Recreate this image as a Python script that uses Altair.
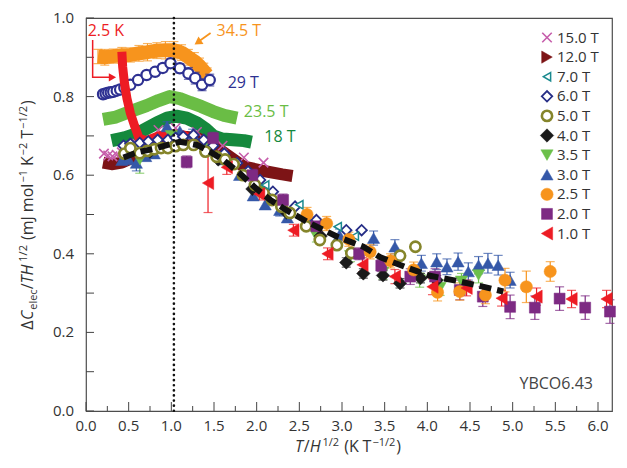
import altair as alt
import pandas as pd

FONT = "Open Sans"
W, H = 526, 393
XMAX = 6.164

# ---------------- axis ticks ----------------
x_major = [0.0, 0.5, 1.0, 1.5, 2.0, 2.5, 3.0, 3.5, 4.0, 4.5, 5.0, 5.5, 6.0]
x_minor = [0.25, 0.75, 1.25, 1.75, 2.25, 2.75, 3.25, 3.75, 4.25, 4.75, 5.25, 5.75]
y_labels = [0.0, 0.2, 0.4, 0.6, 0.8, 1.0]
y_ticks = [0.0, 0.1, 0.2, 0.3, 0.4, 0.5, 0.6, 0.7, 0.8, 0.9, 1.0]

# ---------------- high-field bands ----------------
x_345 = [0.14, 0.22, 0.32, 0.42, 0.52, 0.62, 0.72, 0.83, 0.93, 1.03, 1.12, 1.20, 1.27, 1.33, 1.38, 1.42]
y_345 = [0.902, 0.900, 0.903, 0.905, 0.906, 0.910, 0.913, 0.917, 0.918, 0.918, 0.912, 0.900, 0.890, 0.878, 0.865, 0.855]
e_345 = [0.018, 0.020, 0.018, 0.020, 0.018, 0.020, 0.022, 0.020, 0.022, 0.022, 0.020, 0.020, 0.022, 0.020, 0.020, 0.018]

x_29 = [0.20, 0.23, 0.26, 0.29, 0.32, 0.36, 0.40, 0.45, 0.52, 0.61, 0.71, 0.81, 0.90, 0.99, 1.10, 1.20, 1.28, 1.36, 1.45]
y_29 = [0.806, 0.808, 0.810, 0.811, 0.812, 0.815, 0.818, 0.822, 0.830, 0.842, 0.855, 0.863, 0.873, 0.885, 0.872, 0.859, 0.847, 0.830, 0.842]
e_29 = [0.0, 0.0, 0.0, 0.0, 0.0, 0.0, 0.0, 0.0, 0.0, 0.0, 0.008, 0.0, 0.010, 0.0, 0.012, 0.015, 0.015, 0.015, 0.015]

x_235 = [0.20, 0.35, 0.52, 0.71, 0.85, 0.98, 1.10, 1.22, 1.35, 1.49, 1.62, 1.77]
y_235 = [0.742, 0.748, 0.762, 0.777, 0.790, 0.800, 0.795, 0.785, 0.775, 0.762, 0.752, 0.745]

x_18 = [0.30, 0.45, 0.59, 0.72, 0.83, 0.95, 1.06, 1.18, 1.30, 1.40, 1.49, 1.60, 1.72, 1.85, 1.94]
y_18 = [0.688, 0.695, 0.705, 0.720, 0.733, 0.745, 0.750, 0.745, 0.733, 0.718, 0.700, 0.692, 0.690, 0.688, 0.684]

x_15 = [0.21, 0.26, 0.31, 0.36, 0.42, 0.60, 0.85, 1.05, 1.30, 1.60, 1.85, 2.08]
y_15 = [0.655, 0.650, 0.648, 0.652, 0.658, 0.680, 0.715, 0.720, 0.710, 0.675, 0.645, 0.632]

x_12 = [0.20, 0.30, 0.42, 0.60, 0.85, 1.05, 1.30, 1.60, 1.85, 2.10, 2.30, 2.42]
y_12 = [0.632, 0.628, 0.632, 0.650, 0.685, 0.700, 0.695, 0.660, 0.622, 0.610, 0.602, 0.598]

x_25K = [0.42, 0.43, 0.45, 0.48, 0.52, 0.57, 0.62, 0.70, 0.85, 1.00, 1.15, 1.28]
y_25K = [0.914, 0.875, 0.835, 0.795, 0.758, 0.725, 0.695, 0.688, 0.700, 0.706, 0.702, 0.685]

# ---------------- low-field collapse data ----------------
x_7T = [2.10, 2.50, 2.95, 3.15]
y_7T = [0.575, 0.525, 0.469, 0.445]
e_7T = [0.0, 0.0, 0.0, 0.0]

x_6T = [0.44, 0.52, 0.63, 0.73, 0.84, 0.96, 1.05, 1.14, 1.26, 1.38, 1.49, 1.62, 1.77, 1.90, 2.04, 2.19, 2.45, 2.70, 3.05, 3.23]
y_6T = [0.675, 0.680, 0.682, 0.686, 0.690, 0.690, 0.695, 0.698, 0.702, 0.690, 0.675, 0.655, 0.631, 0.610, 0.588, 0.558, 0.520, 0.486, 0.460, 0.460]
e_6T = [0.0] * 20

x_5T = [0.45, 0.52, 0.63, 0.72, 0.80, 0.88, 0.96, 1.05, 1.14, 1.26, 1.40, 1.53, 1.63, 1.73, 1.84, 1.98, 2.08, 2.18, 2.29, 2.39, 2.58, 2.74, 2.94, 3.11, 3.68, 3.86]
y_5T = [0.655, 0.669, 0.656, 0.662, 0.666, 0.669, 0.669, 0.674, 0.677, 0.677, 0.660, 0.647, 0.640, 0.628, 0.600, 0.575, 0.556, 0.537, 0.520, 0.504, 0.470, 0.435, 0.422, 0.402, 0.395, 0.418]
e_5T = [0.0] * 26

x_4T = [0.75, 1.15, 1.55, 1.95, 2.35, 2.75, 3.05, 3.25, 3.48, 3.68, 3.92, 4.11]
y_4T = [0.660, 0.682, 0.640, 0.565, 0.505, 0.445, 0.378, 0.350, 0.345, 0.325, 0.338, 0.333]
e_4T = [0.0, 0.0, 0.0, 0.0, 0.0, 0.0, 0.012, 0.012, 0.012, 0.012, 0.012, 0.012]

x_35T = [0.63, 1.00, 1.45, 2.05, 2.70, 3.10, 3.48, 3.91, 4.15, 4.40, 4.60]
y_35T = [0.640, 0.700, 0.675, 0.560, 0.445, 0.395, 0.353, 0.333, 0.314, 0.330, 0.346]
e_35T = [0.035, 0.015, 0.015, 0.015, 0.015, 0.015, 0.018, 0.018, 0.020, 0.020, 0.020]

x_3T = [0.42, 0.50, 0.59, 0.70, 0.80, 0.95, 1.10, 1.25, 1.40, 1.60, 1.80, 1.96, 2.10, 2.27, 2.36, 2.62, 2.97, 3.37, 3.62, 3.93, 4.11, 4.23, 4.36, 4.48, 4.60, 4.71, 4.83, 4.97]
y_3T = [0.638, 0.640, 0.631, 0.648, 0.655, 0.724, 0.712, 0.705, 0.680, 0.640, 0.600, 0.548, 0.525, 0.511, 0.492, 0.478, 0.448, 0.440, 0.418, 0.376, 0.380, 0.367, 0.380, 0.355, 0.371, 0.376, 0.371, 0.333]
e_3T = [0.0, 0.0, 0.020, 0.0, 0.0, 0.012, 0.0, 0.012, 0.0, 0.012, 0.0, 0.0, 0.0, 0.015, 0.0, 0.015, 0.015, 0.018, 0.018, 0.020, 0.020, 0.020, 0.022, 0.022, 0.022, 0.025, 0.025, 0.020]

x_2T = [1.18, 1.49, 1.95, 2.31, 2.70, 3.20, 3.46, 3.80, 4.09, 4.38, 4.65, 4.97, 5.26, 5.55, 5.85, 6.14]
y_2T = [0.634, 0.694, 0.600, 0.537, 0.470, 0.400, 0.370, 0.342, 0.342, 0.308, 0.291, 0.265, 0.263, 0.286, 0.263, 0.253]
e_2T = [0.015, 0.015, 0.015, 0.015, 0.015, 0.015, 0.015, 0.020, 0.020, 0.025, 0.025, 0.030, 0.030, 0.030, 0.030, 0.030]

x_25T = [2.59, 2.82, 3.08, 3.33, 3.57, 3.84, 4.12, 4.38, 4.68, 4.91, 5.16, 5.44]
y_25T = [0.500, 0.477, 0.437, 0.405, 0.382, 0.359, 0.302, 0.304, 0.295, 0.333, 0.316, 0.355]
e_25T = [0.018, 0.018, 0.018, 0.018, 0.018, 0.020, 0.022, 0.022, 0.022, 0.030, 0.040, 0.025]

x_1T = [1.43, 1.65, 2.03, 2.43, 2.83, 3.24, 3.62, 4.06, 4.46, 4.87, 5.28, 5.69, 6.10]
y_1T = [0.580, 0.620, 0.552, 0.460, 0.400, 0.372, 0.342, 0.316, 0.313, 0.287, 0.291, 0.285, 0.285]
e_1T = [0.075, 0.018, 0.015, 0.015, 0.015, 0.018, 0.018, 0.020, 0.020, 0.020, 0.022, 0.022, 0.022]

# dashed scaling curve
x_fit = [0.44, 0.60, 0.83, 1.00, 1.10, 1.30, 1.45, 1.61, 1.80, 2.00, 2.16, 2.35, 2.62, 2.94, 3.25, 3.45, 3.76, 4.03, 4.30, 4.58, 4.89]
y_fit = [0.645, 0.658, 0.669, 0.680, 0.685, 0.677, 0.660, 0.639, 0.605, 0.565, 0.537, 0.511, 0.478, 0.444, 0.418, 0.391, 0.365, 0.344, 0.333, 0.320, 0.304]

x_dotted = [1.03]

legend_labels = ["15.0 T", "12.0 T", "7.0 T", "6.0 T", "5.0 T", "4.0 T", "3.5 T", "3.0 T", "2.5 T", "2.0 T", "1.0 T"]

# annotations
ann_text = ["2.5 K", "34.5 T", "29 T", "23.5 T", "18 T", "YBCO6.43"]
ann_x = [0.02, 1.53, 1.66, 1.85, 2.09, 5.08]
ann_y = [0.968, 0.968, 0.834, 0.762, 0.698, 0.068]

# ---------------- colours / styles ----------------
ORANGE = "#f7941d"
NAVY29 = "#2e3192"
LGREEN = "#6abd45"
DGREEN = "#15893d"
RED = "#ed1c24"
PINK = "#c65dab"
DRED = "#7d1416"
TEAL = "#1b8a8f"
NAVY = "#262e86"
OLIVE = "#85852b"
BLACK = "#1a1a1a"
GREEN = "#6cc04a"
BLUE = "#3558a8"
PURPLE = "#7d2a83"
TXT = "#333333"
XPATH = "M-1,-1L1,1M-1,1L1,-1"

style = {
    "15.0 T": dict(shape=XPATH, fill="none", col=PINK, size=90, sw=1.6),
    "12.0 T": dict(shape="triangle-right", fill=DRED, col=DRED, size=150, sw=0.5),
    "7.0 T": dict(shape="triangle-left", fill="white", col=TEAL, size=70, sw=1.5),
    "6.0 T": dict(shape="diamond", fill="white", col=NAVY, size=110, sw=1.8),
    "5.0 T": dict(shape="circle", fill="white", col=OLIVE, size=105, sw=2.6),
    "4.0 T": dict(shape="diamond", fill=BLACK, col=BLACK, size=180, sw=0.5),
    "3.5 T": dict(shape="triangle-down", fill=GREEN, col=GREEN, size=150, sw=0.5),
    "3.0 T": dict(shape="triangle-up", fill=BLUE, col=BLUE, size=150, sw=0.5),
    "2.5 T": dict(shape="circle", fill=ORANGE, col=ORANGE, size=150, sw=0.5),
    "2.0 T": dict(shape="square", fill=PURPLE, col=PURPLE, size=120, sw=0.5),
    "1.0 T": dict(shape="triangle-left", fill=RED, col=RED, size=170, sw=0.5),
    "29 T": dict(shape="circle", fill="white", col=NAVY29, size=105, sw=2.2),
}

xs = alt.Scale(domain=[0, XMAX], nice=False, zero=False)
ys = alt.Scale(domain=[0, 1], nice=False, zero=False)


def XE(f="x"):
    return alt.X(f"{f}:Q", scale=xs, axis=None)


def YE(f="y"):
    return alt.Y(f"{f}:Q", scale=ys, axis=None)


def series_df(name, xv, yv, ev=None):
    st = style[name]
    d = pd.DataFrame({"x": xv, "y": yv})
    d["err"] = ev if ev is not None else 0.0
    for k, v in st.items():
        d[k] = v
    d["name"] = name
    return d


layers = []


def errbars(d, width=1.2):
    d = d[d["err"] > 0].copy()
    d["lo"] = d["y"] - d["err"]
    d["hi"] = d["y"] + d["err"]
    caps = pd.concat([d.assign(yc=d["lo"]), d.assign(yc=d["hi"])])
    r = alt.Chart(d).mark_rule(strokeWidth=width).encode(
        x=XE(), y=YE("lo"), y2=alt.Y2("hi:Q"), color=alt.Color("col:N", scale=None))
    c = alt.Chart(caps).mark_tick(orient="horizontal", size=9, thickness=1.2).encode(
        x=XE(), y=YE("yc"), color=alt.Color("col:N", scale=None))
    return [r, c]


def band(xv, yv, color, width):
    d = pd.DataFrame({"x": xv, "y": yv, "i": range(len(xv))})
    return alt.Chart(d).mark_line(color=color, strokeWidth=width, strokeCap="butt", strokeJoin="round").encode(
        x=XE(), y=YE(), order=alt.Order("i:Q"))


def points(d):
    return alt.Chart(d).mark_point(filled=True, opacity=1).encode(
        x=XE(), y=YE(),
        shape=alt.Shape("shape:N", scale=None),
        fill=alt.Fill("fill:N", scale=None),
        stroke=alt.Stroke("col:N", scale=None),
        size=alt.Size("size:Q", scale=None),
        strokeWidth=alt.StrokeWidth("sw:Q", scale=None),
        order=alt.Order("ord:Q"),
    )


# 34.5 T band
d345 = pd.DataFrame({"x": x_345, "y": y_345, "err": e_345, "col": ORANGE})
layers += errbars(d345, 1.0)
layers.append(band(x_345, y_345, ORANGE, 14))

# 29 T circles
d29 = series_df("29 T", x_29, y_29, e_29)
d29["ord"] = range(len(d29))
layers += errbars(d29, 1.0)
layers.append(points(d29))

# 23.5 T and 18 T bands
layers.append(band(x_235, y_235, LGREEN, 13))
layers.append(band(x_18, y_18, DGREEN, 13))

# 12 T band and 15 T crosses
layers.append(band(x_12, y_12, DRED, 12))
d15 = series_df("15.0 T", x_15, y_15)
d15["ord"] = range(len(d15))
layers.append(points(d15))

# 2.5 K curve
layers.append(band(x_25K, y_25K, RED, 9))

# low-field collapse
low = pd.concat([
    series_df("3.0 T", x_3T, y_3T, e_3T),
    series_df("3.5 T", x_35T, y_35T, e_35T),
    series_df("4.0 T", x_4T, y_4T, e_4T),
    series_df("6.0 T", x_6T, y_6T, e_6T),
    series_df("5.0 T", x_5T, y_5T, e_5T),
    series_df("7.0 T", x_7T, y_7T, e_7T),
    series_df("2.0 T", x_2T, y_2T, e_2T),
    series_df("2.5 T", x_25T, y_25T, e_25T),
    series_df("1.0 T", x_1T, y_1T, e_1T),
], ignore_index=True)
low["ord"] = range(len(low))
layers += errbars(low, 1.2)
layers.append(points(low))

# dashed scaling curve
dfit = pd.DataFrame({"x": x_fit, "y": y_fit, "i": range(len(x_fit))})
layers.append(alt.Chart(dfit).mark_line(color="#111111", strokeWidth=6, strokeDash=[12, 6], strokeCap="butt").encode(
    x=XE(), y=YE(), order=alt.Order("i:Q")))

# dotted vertical line
layers.append(alt.Chart(pd.DataFrame({"x": x_dotted})).mark_rule(
    color="#111111", strokeWidth=2.6, strokeDash=[0.1, 5], strokeCap="round").encode(
    x=XE(), y=alt.value(0), y2=alt.value(H)))

# inward ticks
layers.append(alt.Chart(pd.DataFrame({"x": x_major})).mark_rule(color="#444444", strokeWidth=1).encode(
    x=XE(), y=alt.value(H), y2=alt.value(H - 9)))
layers.append(alt.Chart(pd.DataFrame({"x": x_minor})).mark_rule(color="#444444", strokeWidth=1).encode(
    x=XE(), y=alt.value(H), y2=alt.value(H - 5)))
layers.append(alt.Chart(pd.DataFrame({"y": y_ticks})).mark_rule(color="#444444", strokeWidth=1).encode(
    y=YE(), x=alt.value(0), x2=alt.value(8)))

# tick labels
xl = pd.DataFrame({"x": x_major, "t": [f"{v:.1f}" for v in x_major]})
layers.append(alt.Chart(xl).mark_text(font=FONT, fontSize=15, color=TXT, align="center", baseline="middle").encode(
    x=XE(), y=alt.value(H + 15), text="t:N"))
yl = pd.DataFrame({"y": y_labels, "t": [f"{v:.1f}" for v in y_labels]})
layers.append(alt.Chart(yl).mark_text(font=FONT, fontSize=15, color=TXT, align="right", baseline="middle").encode(
    y=YE(), x=alt.value(-12), text="t:N"))

# annotation arrows
arr1 = pd.DataFrame({"x": [0.078, 0.078, 0.29], "y": [0.944, 0.849, 0.849], "i": [0, 1, 2]})
layers.append(alt.Chart(arr1).mark_line(color=RED, strokeWidth=1.5).encode(x=XE(), y=YE(), order=alt.Order("i:Q")))
layers.append(alt.Chart(pd.DataFrame({"x": [0.31], "y": [0.849]})).mark_point(
    shape="triangle-right", filled=True, color=RED, size=70, opacity=1).encode(x=XE(), y=YE()))
arr2 = pd.DataFrame({"x": [1.46, 1.32], "y": [0.962, 0.940], "i": [0, 1]})
layers.append(alt.Chart(arr2).mark_line(color=ORANGE, strokeWidth=1.8).encode(x=XE(), y=YE(), order=alt.Order("i:Q")))
layers.append(alt.Chart(pd.DataFrame({"x": [1.31], "y": [0.938]})).mark_point(
    shape="triangle-up", filled=True, color=ORANGE, size=80, opacity=1, angle=236).encode(x=XE(), y=YE()))

ann = pd.DataFrame({"x": ann_x, "y": ann_y, "t": ann_text,
                    "c": [RED, ORANGE, NAVY29, LGREEN, DGREEN, "#444444"]})
layers.append(alt.Chart(ann).mark_text(font=FONT, fontSize=16, align="left", baseline="middle").encode(
    x=XE(), y=YE(), text="t:N", color=alt.Color("c:N", scale=None)))

# legend
leg = pd.DataFrame({"t": legend_labels})
leg["ly"] = [19.5 + 19.6 * i for i in range(len(leg))]
for k in ["shape", "fill", "col", "size", "sw"]:
    leg[k] = [style[n][k] for n in legend_labels]
layers.append(alt.Chart(leg).mark_point(filled=True, opacity=1).encode(
    x=alt.value(461), y=alt.Y("ly:Q", scale=None),
    shape=alt.Shape("shape:N", scale=None), fill=alt.Fill("fill:N", scale=None),
    stroke=alt.Stroke("col:N", scale=None), size=alt.Size("size:Q", scale=None),
    strokeWidth=alt.StrokeWidth("sw:Q", scale=None)))
layers.append(alt.Chart(leg).mark_text(font=FONT, fontSize=15, align="left", baseline="middle", color=TXT).encode(
    x=alt.value(471), y=alt.Y("ly:Q", scale=None), text="t:N"))

# ---------------- composite axis titles ----------------
CW = {'0': .572, '1': .572, '2': .572, '.': .266, ' ': .26, '(': .296, ')': .296, '/': .371,
      'T': .556, 'K': .598, 'H': .738, 'C': .632, 'Δ': .62, 'm': .928, 'J': .268, 'o': .602,
      'l': .258, 'e': .561, 'c': .479, '−': .572}


def tw(s, fs):
    return sum(CW.get(ch, .55) for ch in s) * fs


# (text, font size, style, baseline shift, gap before)
x_title = [("T", 16, "italic", 0, 0), ("/", 16, "normal", 0, 0), ("H", 16, "italic", 0, 0),
           ("1/2", 11, "normal", -6, 1), ("(K", 16, "normal", 0, 5), ("T", 16, "normal", 0, 4),
           ("−1/2", 11, "normal", -6, 1), (")", 16, "normal", 0, 1)]
y_title = [("Δ", 16, "normal", 0, 0), ("C", 16, "italic", 0, 0), ("elec", 11, "normal", 4, 0),
           ("/", 16, "normal", 0, 0), ("TH", 16, "italic", 0, 0), ("1/2", 11, "normal", -6, 1),
           ("(mJ", 16, "normal", 0, 5), ("mol", 16, "normal", 0, 4), ("−1", 11, "normal", -6, 1),
           ("K", 16, "normal", 0, 4), ("−2", 11, "normal", -6, 1), ("T", 16, "normal", 0, 4),
           ("−1/2", 11, "normal", -6, 1), (")", 16, "normal", 0, 1)]

rows = []
tot = sum(tw(t, f) + g for t, f, _, _, g in x_title)
cx, by = 262, 434
cur = cx - tot / 2
for t, f, st, sh, g in x_title:
    cur += g
    rows.append(dict(px=cur, py=by + sh, t=t, fs=f, st=st, ang=0))
    cur += tw(t, f)
tot = sum(tw(t, f) + g for t, f, _, _, g in y_title)
cy, bx = 197, -53
cur = cy + tot / 2
for t, f, st, sh, g in y_title:
    cur -= g
    rows.append(dict(px=bx + sh, py=cur, t=t, fs=f, st=st, ang=270))
    cur -= tw(t, f)
tdf = pd.DataFrame(rows)
for st in ["normal", "italic"]:
    layers.append(alt.Chart(tdf[tdf.st == st]).mark_text(
        font=FONT, fontStyle=st, align="left", baseline="alphabetic", color=TXT).encode(
        x=alt.X("px:Q", scale=None), y=alt.Y("py:Q", scale=None), text="t:N",
        size=alt.Size("fs:Q", scale=None), angle=alt.Angle("ang:Q", scale=None)))

chart = alt.layer(*layers).properties(
    width=W, height=H,
    padding={"left": 86, "top": 18, "right": 15, "bottom": 57},
    autosize=alt.AutoSizeParams(type="none"),
    background="white",
).configure_view(stroke="#4d4d4d", strokeWidth=1.2)

chart.save("out.html", embed_options={"renderer": "svg", "actions": False})
